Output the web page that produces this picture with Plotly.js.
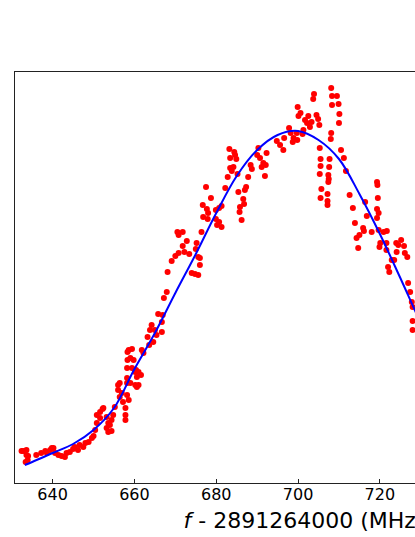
<!DOCTYPE html>
<html>
<head>
<meta charset="utf-8">
<script src="https://cdn.plot.ly/plotly-3.0.1.min.js"></script>
<style>
  html, body { margin: 0; padding: 0; overflow: hidden; background: #fff; }
  #chart { width: 620px; height: 537px; }
</style>
</head>
<body>
<div id="chart"></div>
<script>
// Measured points: frequency offset (MHz) and signal (arb. units)
const freqData = [
  632.4, 632.8, 633.6, 633.6, 634.0, 633.9, 633.4, 636.0, 637.2, 638.2,
  638.6, 639.4, 639.8, 640.2, 640.6, 641.4, 642.2, 643.0, 643.4, 644.2,
  645.0, 645.4, 646.2, 646.6, 647.5, 648.0, 648.8, 649.6, 650.0, 650.4,
  650.8, 650.8, 651.6, 651.6, 652.2, 652.4, 653.2, 653.2, 653.6, 653.6,
  654.0, 654.4, 654.4, 654.8, 655.2, 656.0, 656.0, 656.4, 656.4, 656.9,
  657.2, 657.8, 657.8, 657.8, 658.2, 658.2, 658.2, 658.2, 658.3, 658.3,
  658.6, 658.6, 659.0, 659.0, 659.4, 659.4, 659.8, 660.2, 660.2, 660.4,
  660.6, 660.6, 661.0, 661.0, 661.6, 661.8, 662.2, 663.2, 663.6, 663.8,
  664.2, 664.6, 665.0, 665.4, 665.8, 666.7, 666.7, 666.9, 667.2, 667.9,
  668.1, 669.1, 670.0, 670.5, 670.8, 670.8, 671.8, 671.8, 672.2, 672.8,
  673.4, 674.0, 674.8, 675.0, 675.2, 675.6, 675.6, 676.0, 676.0, 676.4,
  676.7, 676.8, 677.5, 677.7, 677.9, 678.0, 678.7, 679.9, 679.9, 680.2,
  680.7, 680.7, 681.3, 681.3, 682.2, 682.8, 683.2, 683.4, 683.4, 683.8,
  684.2, 684.4, 684.6, 684.9, 685.2, 685.4, 685.7, 685.8, 686.2, 686.6,
  686.8, 687.0, 687.3, 687.8, 688.4, 688.7, 690.0, 690.3, 690.7, 691.1,
  691.5, 691.9, 692.1, 692.3, 694.8, 695.6, 696.4, 696.6, 697.8, 698.2,
  698.7, 698.9, 699.7, 699.8, 699.9, 700.1, 700.6, 701.1, 701.3, 701.7,
  702.2, 702.5, 702.9, 703.3, 703.7, 703.9, 704.5, 704.9, 705.2, 705.3,
  705.5, 705.5, 705.3, 705.7, 705.5, 707.2, 707.2, 707.2, 707.4, 707.5,
  707.4, 707.6, 707.7, 708.0, 708.1, 708.1, 708.3, 708.3, 709.5, 709.9,
  710.1, 710.0, 710.5, 711.2, 711.7, 712.6, 713.4, 713.9, 714.3, 714.7,
  715.0, 715.9, 716.1, 716.4, 716.8, 718.0, 719.3, 719.4, 719.5, 719.3,
  719.7, 719.3, 719.7, 720.1, 719.9, 720.9, 721.7, 721.6, 721.6, 722.0,
  722.3, 722.9, 723.5, 724.0, 724.1, 724.5, 725.2, 725.9, 726.1, 726.7,
  726.9, 727.4, 727.8, 728.0, 728.0, 728.0
];
const signalData = [
  32, 32, 33, 28, 27, 23, 21, 28, 30, 32,
  30, 33, 35, 35, 30, 28, 27, 26, 30, 31,
  34, 36, 33, 38, 36, 40, 41, 45, 47, 53,
  60, 68, 71, 65, 74, 75, 66, 55, 51, 60,
  58, 63, 52, 68, 76, 98, 93, 86, 100, 90,
  81, 75, 68, 63, 88, 105, 115, 100, 131, 123,
  133, 83, 100, 125, 134, 115, 123, 111, 98, 113,
  106, 96, 111, 98, 108, 133, 130, 146, 138, 153,
  158, 141, 153, 148, 169, 161, 151, 168, 185, 191,
  211, 222, 227, 251, 248, 230, 251, 237, 231, 242,
  229, 210, 209, 234, 240, 226, 208, 225, 218, 251,
  278, 266, 296, 274, 264, 270, 285, 273, 264, 258,
  275, 261, 277, 256, 295, 306, 334, 325, 315, 312,
  316, 331, 328, 324, 309, 291, 271, 276, 263, 284,
  279, 293, 296, 306, 318, 314, 328, 335, 325, 316,
  320, 307, 318, 330, 342, 338, 333, 345, 355, 350,
  341, 345, 350, 343, 376, 367, 370, 349, 353, 363,
  360, 367, 356, 361, 384, 389, 368, 364, 358, 335,
  324, 317, 309, 294, 285, 289, 282, 278, 308, 304,
  301, 316, 324, 344, 350, 395, 387, 378, 387, 379,
  369, 360, 333, 325, 312, 288, 275, 260, 245, 235,
  248, 255, 252, 281, 267, 251, 301, 298, 285, 274,
  270, 265, 253, 240, 236, 251, 252, 240, 233, 216,
  211, 223, 223, 240, 231, 238, 243, 237, 230, 226,
  200, 191, 181, 176, 162, 153
];
// Fitted curve
const fitFreq = [633.2, 635, 640, 645, 650, 655, 660, 665, 670, 675, 680, 685, 690, 695, 700, 705, 710, 715, 720, 725, 730, 735];
const fitSignal = [18, 21, 30, 39, 53, 75, 114, 150, 190, 229, 270, 307, 333, 348, 352, 343, 324, 289, 249, 205, 160, 120];
const xTicks = [640, 660, 680, 700, 720];

const data = [
  {
    x: freqData, y: signalData, type: 'scatter', mode: 'markers',
    marker: { color: '#ff0000', size: 6, line: { width: 0 } },
    hoverinfo: 'skip'
  },
  {
    x: fitFreq, y: fitSignal, type: 'scatter', mode: 'lines',
    line: { color: '#0000ff', width: 2, shape: 'spline', smoothing: 1 },
    hoverinfo: 'skip'
  }
];

const layout = {
  width: 620, height: 537,
  margin: { l: 15, r: 27, t: 72, b: 54 },
  paper_bgcolor: '#ffffff', plot_bgcolor: '#ffffff',
  showlegend: false,
  font: { family: 'DejaVu Sans, sans-serif', color: '#000' },
  xaxis: {
    range: [630.8, 772.1],
    tickvals: xTicks,
    ticktext: xTicks.map(String),
    ticks: 'inside', ticklen: 4, tickwidth: 1, tickcolor: '#222',
    ticklabelstandoff: -4,
    showline: true, linecolor: '#222', linewidth: 1.3, mirror: true,
    showgrid: false, zeroline: false,
    tickfont: { size: 16, family: 'DejaVu Sans, sans-serif', color: '#000' },
    title: { text: '<i>f</i> - 2891264000 (MHz)', font: { size: 22, family: 'DejaVu Sans, sans-serif', color: '#000' }, standoff: 10 }
  },
  yaxis: {
    range: [0, 411],
    showticklabels: false, ticks: '',
    showline: true, linecolor: '#222', linewidth: 1.3, mirror: true,
    showgrid: false, zeroline: false
  }
};

Plotly.newPlot('chart', data, layout, { staticPlot: true, displayModeBar: false });
</script>
</body>
</html>
